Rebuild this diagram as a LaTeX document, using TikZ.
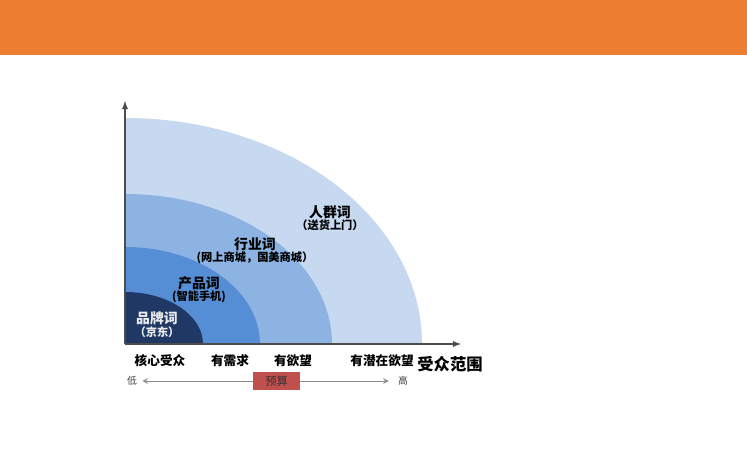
\documentclass[tikz,border=0pt]{standalone}
\usepackage{fontspec}
\newfontfamily\cjk{Noto Sans CJK SC}
\usepackage{tikz}
\usetikzlibrary{arrows}
\definecolor{barorange}{HTML}{ED7D31}
\definecolor{ringa}{HTML}{C6D9F1}
\definecolor{ringb}{HTML}{8DB3E2}
\definecolor{ringc}{HTML}{558ED5}
\definecolor{ringd}{HTML}{1F3864}
\definecolor{budgetred}{HTML}{C0504D}
\tikzstyle{word} = [font=\cjk\bfseries\fontsize{7.9}{8}\selectfont, inner sep=0pt]
\tikzstyle{note} = [font=\cjk\bfseries\fontsize{6.4}{7}\selectfont, inner sep=0pt]
\tikzstyle{level} = [font=\cjk\bfseries\fontsize{7.2}{8}\selectfont, inner sep=0pt]
\tikzstyle{small} = [font=\cjk\fontsize{5.6}{6}\selectfont, inner sep=0pt, text=black!75]
\tikzstyle{axis} = [draw=black!70, line width=0.6pt, -latex]

\begin{document}
\begin{tikzpicture}[x=0.02cm, y=0.02cm]
        \useasboundingbox (0,0) rectangle (747,450);
        \fill [barorange] (0,395) rectangle (747,450);
        \coordinate (o) at (125,106);
        \fill [ringa] (o) -- ++(297,0) arc [start angle=0, end angle=90, x radius=297, y radius=226] -- cycle;
        \fill [ringb] (o) -- ++(207,0) arc [start angle=0, end angle=90, x radius=207, y radius=150] -- cycle;
        \fill [ringc] (o) -- ++(135,0) arc [start angle=0, end angle=90, x radius=135, y radius=97] -- cycle;
        \fill [ringd] (o) -- ++(78,0) arc [start angle=0, end angle=90, x radius=78, y radius=52] -- cycle;
        \coordinate (ytop) at (125,349);
        \coordinate (xend) at (461,106);
        \draw [axis] (o) -- (ytop);
        \draw [axis] (o) -- (xend);
        % words in the rings
        \node [word] at (330,238) (crowd) {人群词};
        \node [note] at (330,225) (crowdn) {（送货上门）};
        \node [word] at (255,206) (trade) {行业词};
        \node [note] at (255,192) (traden) {(网上商城，国美商城）};
        \node [word] at (199,167) (prod) {产品词};
        \node [note] at (199,153) (prodn) {(智能手机)};
        \node [word, text=ringd!10] at (157,132) (brand) {品牌词};
        \node [note, text=ringd!10] at (157,118) (brandn) {（京东）};
        % audience levels
        \node [level] at (160,89) (core) {核心受众};
        \node [level] at (230,89) (need) {有需求};
        \node [level] at (293,89) (want) {有欲望};
        \node [level, anchor=east] at (414,89) (latent) {有潜在欲望};
        \node [level, anchor=west, font=\cjk\bfseries\fontsize{9.3}{10}\selectfont] at (417,86) (range) {受众范围};
        % budget
        \node [small] at (132,69) (low) {低};
        \node [small] at (403,69) (high) {高};
        \draw [black!45, line width=0.5pt, stealth-stealth] (low.east) ++(5,0) -- ([xshift=-5]high.west);
        \node [fill=budgetred, minimum width=47*0.02cm, minimum height=18*0.02cm, inner sep=0pt,
               font=\cjk\fontsize{6.4}{7}\selectfont, text=black!80] at (276.5,69) (budget) {预算};
\end{tikzpicture}
\end{document}
